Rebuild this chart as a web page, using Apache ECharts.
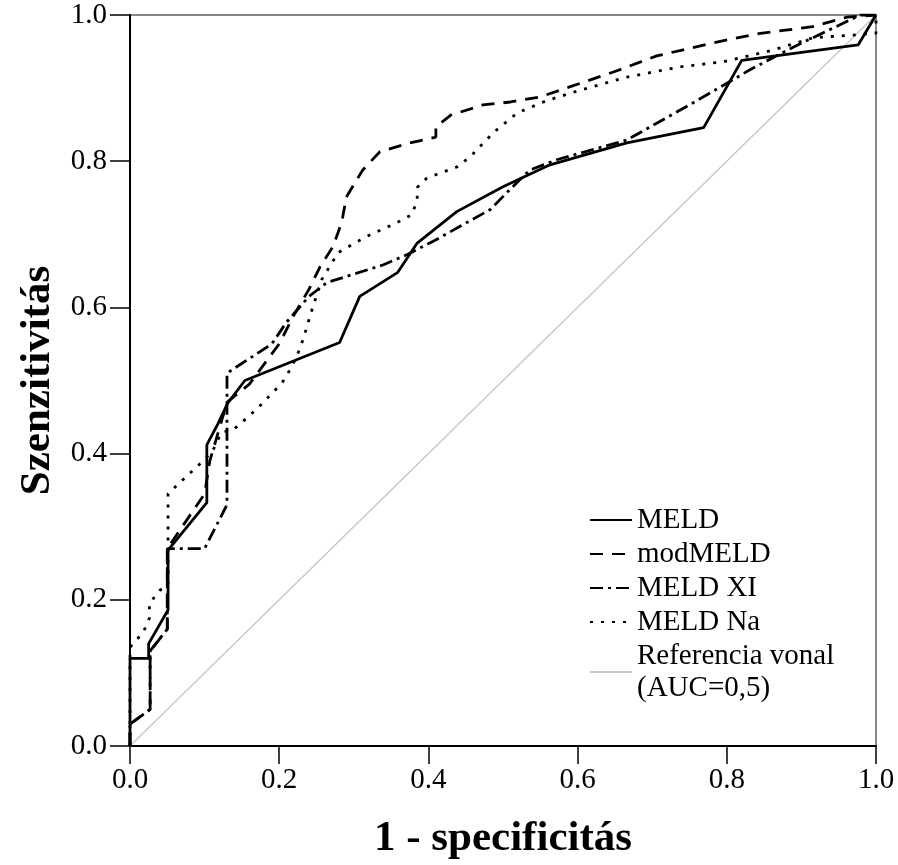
<!DOCTYPE html>
<html>
<head>
<meta charset="utf-8">
<script src="https://cdn.jsdelivr.net/npm/echarts@6/dist/echarts.min.js"></script>
<style>html,body{margin:0;padding:0;background:#fff;}#c{width:898px;height:865px;}</style>
</head>
<body>
<div id="c"></div>
<script>
const seriesNames = ['MELD', 'modMELD', 'MELD XI', 'MELD Na', 'Referencia vonal\n(AUC=0,5)'];
const tickLabels = ['0.0', '0.2', '0.4', '0.6', '0.8', '1.0'];

const meld = [[0,0],[0,0.12],[0.025,0.12],[0.025,0.14],[0.051,0.186],[0.051,0.268],[0.103,0.333],[0.103,0.412],[0.118,0.441],[0.131,0.469],[0.154,0.5],[0.281,0.552],[0.308,0.615],[0.359,0.648],[0.385,0.688],[0.438,0.731],[0.5,0.765],[0.563,0.795],[0.666,0.825],[0.769,0.846],[0.82,0.938],[0.976,0.959],[1,1]];

const modMeld = [[0,0],[0,0.03],[0.027,0.05],[0.027,0.13],[0.05,0.16],[0.05,0.27],[0.1,0.345],[0.107,0.39],[0.13,0.47],[0.16,0.495],[0.2,0.55],[0.22,0.59],[0.24,0.625],[0.255,0.656],[0.272,0.683],[0.284,0.717],[0.29,0.751],[0.312,0.788],[0.335,0.813],[0.375,0.825],[0.41,0.833],[0.41,0.847],[0.43,0.863],[0.473,0.877],[0.51,0.881],[0.55,0.888],[0.648,0.922],[0.706,0.944],[0.782,0.962],[0.845,0.975],[0.915,0.984],[0.961,0.997],[1,1]];

const meldXI = [[0,0],[0,0.03],[0.027,0.05],[0.027,0.13],[0.05,0.16],[0.05,0.27],[0.1,0.27],[0.13,0.33],[0.13,0.51],[0.16,0.53],[0.19,0.55],[0.21,0.58],[0.24,0.615],[0.264,0.634],[0.339,0.658],[0.371,0.672],[0.411,0.693],[0.483,0.734],[0.509,0.761],[0.536,0.788],[0.572,0.802],[0.666,0.829],[0.755,0.88],[0.831,0.925],[0.889,0.956],[0.979,1.0],[1,1]];

const meldNa = [[0,0],[0,0.135],[0.018,0.156],[0.026,0.175],[0.026,0.195],[0.04,0.213],[0.051,0.22],[0.051,0.345],[0.08,0.373],[0.097,0.389],[0.111,0.404],[0.122,0.428],[0.14,0.434],[0.157,0.449],[0.172,0.463],[0.188,0.48],[0.204,0.497],[0.214,0.514],[0.224,0.534],[0.232,0.556],[0.244,0.597],[0.257,0.638],[0.279,0.675],[0.317,0.697],[0.358,0.716],[0.378,0.727],[0.385,0.747],[0.385,0.764],[0.398,0.777],[0.438,0.792],[0.456,0.806],[0.487,0.839],[0.519,0.866],[0.559,0.883],[0.603,0.897],[0.666,0.915],[0.737,0.929],[0.795,0.936],[0.862,0.952],[0.916,0.969],[0.961,0.972],[1,0.975],[1,1]];

const reference = [[0,0],[1,1]];

const chart = echarts.init(document.getElementById('c'));
const serif = 'Liberation Serif';
const fmt = v => tickLabels[Math.round(v * 5)];

function curve(name, data, type, width, color) {
  return {
    name: name, type: 'line', data: data, symbol: 'none', animation: false,
    lineStyle: { color: color || '#000', width: width || 2.8, type: type },
    itemStyle: { color: color || '#000' }
  };
}

chart.setOption({
  backgroundColor: '#fff',
  animation: false,
  grid: { left: 130, right: 22, top: 15, bottom: 118, show: true, borderColor: '#888', borderWidth: 2 },
  xAxis: {
    type: 'value', min: 0, max: 1, interval: 0.2,
    name: '1 - specificitás', nameLocation: 'middle', nameGap: 71,
    nameTextStyle: { fontFamily: serif, fontWeight: 'bold', fontSize: 43, color: '#000' },
    axisLine: { show: true, lineStyle: { color: '#000', width: 2 } },
    axisTick: { show: true, inside: false, length: 18, lineStyle: { color: '#000', width: 1.5 } },
    axisLabel: { formatter: fmt, fontFamily: serif, fontSize: 29, color: '#000', margin: 20 },
    splitLine: { show: false }
  },
  yAxis: {
    type: 'value', min: 0, max: 1, interval: 0.2,
    name: 'Szenzitivitás', nameLocation: 'middle', nameGap: 71,
    nameTextStyle: { fontFamily: serif, fontWeight: 'bold', fontSize: 43, color: '#000' },
    axisLine: { show: true, lineStyle: { color: '#000', width: 2 } },
    axisTick: { show: true, inside: false, length: 20, lineStyle: { color: '#000', width: 1.5 } },
    axisLabel: { formatter: fmt, fontFamily: serif, fontSize: 29, color: '#000', margin: 23 },
    splitLine: { show: false }
  },
  legend: {
    orient: 'vertical', left: 584, top: 499,
    itemWidth: 42, itemHeight: 14, itemGap: 2,
    itemStyle: { color: 'rgba(0,0,0,0)', borderColor: 'rgba(0,0,0,0)', borderWidth: 0 },
    data: seriesNames,
    textStyle: { fontFamily: serif, fontSize: 29, color: '#000', lineHeight: 32 },
    selectedMode: false
  },
  series: [
    curve(seriesNames[4], reference, 'solid', 1.5, '#c8c8c8'),
    curve(seriesNames[0], meld, 'solid'),
    curve(seriesNames[1], modMeld, [13, 9]),
    curve(seriesNames[2], meldXI, [13, 5, 3, 5]),
    curve(seriesNames[3], meldNa, [3, 8])
  ]
});
</script>
</body>
</html>
